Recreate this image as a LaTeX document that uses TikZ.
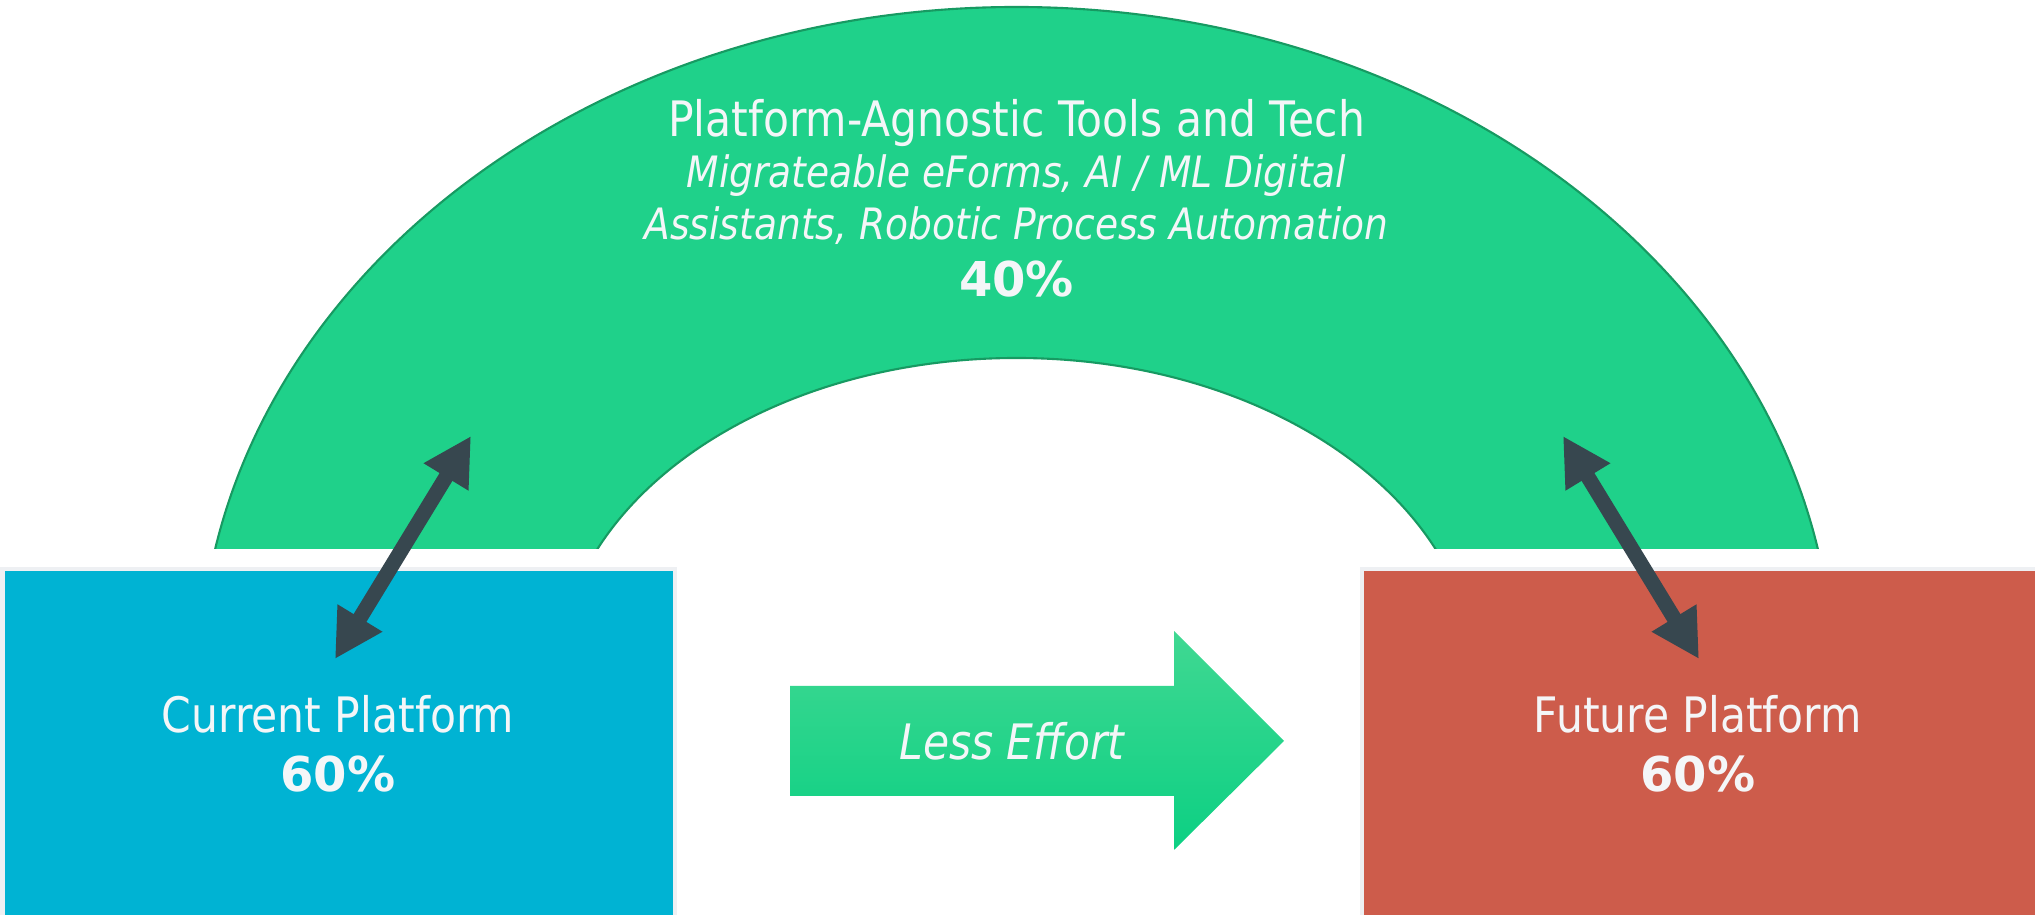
\documentclass[tikz,border=0pt]{standalone}
\usepackage{fontspec}
\setmainfont{DejaVu Sans}[FakeStretch=0.87]
\newfontfamily\pctfamily{DejaVu Sans}
\usetikzlibrary{arrows.meta}

\definecolor{arch}{HTML}{1FD18A}
\definecolor{archline}{HTML}{179A62}
\definecolor{curblue}{HTML}{00B3D3}
\definecolor{futred}{HTML}{CD5C4B}
\definecolor{rim}{HTML}{EEF0F3}
\definecolor{slate}{HTML}{37474F}
\definecolor{paper}{HTML}{F4F6F8}
\definecolor{effortTop}{HTML}{40D892}
\definecolor{effortBot}{HTML}{0CD083}

\newcommand\platsize{\fontsize{13.9pt}{16pt}\selectfont}
\newcommand\subsize{\fontsize{12.3pt}{15pt}\selectfont\itshape}
\newcommand\pctsize{\pctfamily\fontsize{13.66pt}{16pt}\selectfont\bfseries}

\begin{document}
\begin{tikzpicture}[x=0.1mm,y=0.1mm,>={Triangle[length=4.8mm,width=4.9mm]},
    lbl/.style={text=paper,inner sep=0pt,anchor=base},
    plat/.style={draw=rim,line width=0.45mm,inner sep=0pt,minimum height=35.6mm},
    link/.style={<->,draw=slate,fill=slate,line width=1.5mm}]
    \useasboundingbox (0,0) rectangle (2035,915);

    % the arch
    \begin{scope}
        \clip (0,366) rectangle (2035,915);
        \path[fill=arch,draw=archline,line width=0.6pt]
            (199.5,234) arc[start angle=180,end angle=0,x radius=817,y radius=674]
            -- (1475.5,234) arc[start angle=0,end angle=180,x radius=459,y radius=323] -- cycle;
    \end{scope}
    \node[lbl,font=\platsize] (tools) at (1016.5,778) {Platform-Agnostic Tools and Tech};
    \node[lbl,font=\subsize] (toolsa) at (1016.5,727) {Migrateable eForms, AI / ML Digital};
    \node[lbl,font=\subsize] (toolsb) at (1016.5,675) {Assistants, Robotic Process Automation};
    \node[lbl,font=\pctsize] (toolspct) at (1016.5,618) {40\%};

    % platforms
    \node[plat,fill=curblue,minimum width=67.25mm] (curbox) at (338.5,167.9) {};
    \node[plat,fill=futred,minimum width=68.3mm] (futbox) at (1703.6,167.9) {};
    \node[lbl,font=\platsize] (curname) at (338,182) {Current Platform};
    \node[lbl,font=\pctsize] (curpct) at (338,123) {60\%};
    \node[lbl,font=\platsize] (futname) at (1698,182) {Future Platform};
    \node[lbl,font=\pctsize] (futpct) at (1698,123) {60\%};

    % less effort
    \shade[top color=effortTop,bottom color=effortBot]
        (790,229) -- (1174,229) -- (1174,284) -- (1284,174) -- (1174,65) -- (1174,119) -- (790,119) -- cycle;
    \node[lbl,font=\platsize\itshape] (effort) at (1012,155) {Less Effort};

    \coordinate (curtip) at (335,256);
    \coordinate (archleft) at (471,479);
    \coordinate (futtip) at (1699,256);
    \coordinate (archright) at (1563,479);
    \draw[link] (curtip) -- (archleft);
    \draw[link] (futtip) -- (archright);
\end{tikzpicture}
\end{document}
